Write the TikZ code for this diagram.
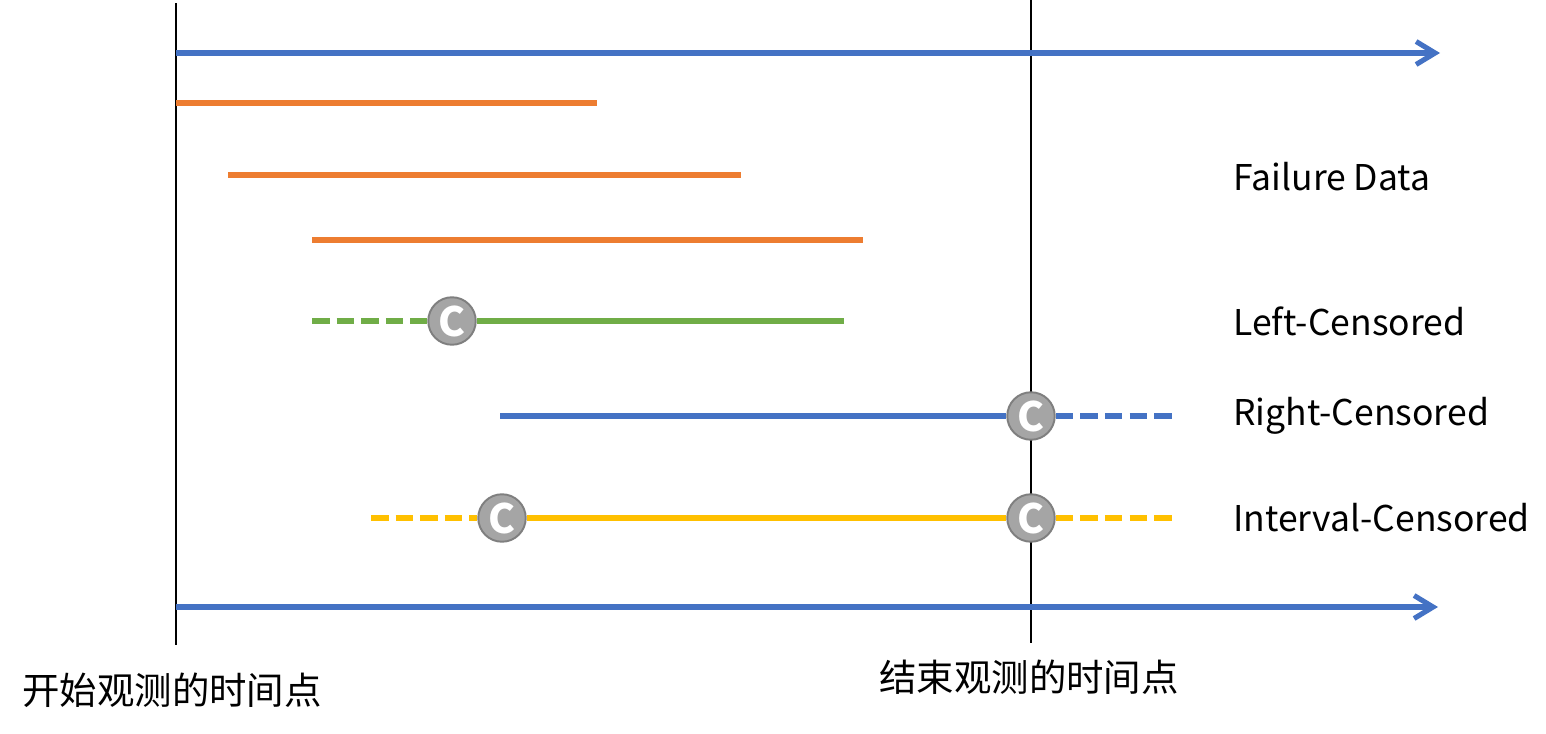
\documentclass[tikz,border=0pt]{standalone}
\usepackage{fontspec}
\setmainfont{Noto Sans CJK SC}
\usepackage{xcolor}
\usetikzlibrary{arrows.meta,positioning}
\definecolor{obsblue}{HTML}{4472C4}
\definecolor{obsorange}{HTML}{ED7D31}
\definecolor{obsgreen}{HTML}{70AD47}
\definecolor{obsyellow}{HTML}{FFC000}
\definecolor{censfill}{HTML}{A5A5A5}
\definecolor{censline}{HTML}{7F7F7F}

\begin{document}
\begin{tikzpicture}[x=0.02cm, y=-0.02cm,
      seg/.style={line width=2.9pt},
      dseg/.style={line width=2.9pt, dash pattern=on 10pt off 4pt},
      axis/.style={line width=2.9pt, color=obsblue,
                   -{Straight Barb[length=0.38cm, width=0.46cm]}},
      bound/.style={black, line width=0.8pt},
      cens/.style={circle, draw=censline, fill=censfill, line width=1.1pt,
                   minimum size=0.95cm, inner sep=0pt, text=white,
                   font=\fontsize{23}{23}\selectfont\bfseries},
      lbl/.style={anchor=west, inner sep=0pt, font=\fontsize{20.2}{24}\selectfont},
      tlbl/.style={inner sep=0pt, font=\fontsize{21.3}{24}\selectfont}
  ]
    \useasboundingbox (0,0) rectangle (1546,734);
    % observation window
    \coordinate (s0) at (176,3);   \coordinate (s1) at (176,645);
    \coordinate (e0) at (1031,0);  \coordinate (e1) at (1031,643);
    \draw[bound] (s0)--(s1); \draw[bound] (e0)--(e1);
    \node[tlbl] (start) at (172,690) {开始观测的时间点};
    \node[tlbl] (stop)  at (1029,677) {结束观测的时间点};
    % time axes
    \coordinate (a0) at (176,53);  \coordinate (a1) at (1440,53);
    \coordinate (b0) at (176,607); \coordinate (b1) at (1438,607);
    \draw[axis] (a0)--(a1); \draw[axis] (b0)--(b1);
    % failure data
    \coordinate (f1a) at (176,103); \coordinate (f1b) at (597,103);
    \coordinate (f2a) at (228,175); \coordinate (f2b) at (741,175);
    \coordinate (f3a) at (312,240); \coordinate (f3b) at (863,240);
    \draw[seg, obsorange] (f1a)--(f1b);
    \draw[seg, obsorange] (f2a)--(f2b);
    \draw[seg, obsorange] (f3a)--(f3b);
    % left-censored
    \coordinate (g0) at (312,321); \coordinate (g1) at (844,321);
    \node[cens] (cg) at (452,321) {C};
    \draw[dseg, obsgreen] (g0)--(cg.west);
    \draw[seg, obsgreen] (cg.east)--(g1);
    % right-censored
    \coordinate (r0) at (500,416); \coordinate (r1) at (1175,416);
    \node[cens] (cr) at (1031,416) {C};
    \draw[seg, obsblue] (r0)--(cr.west);
    \draw[dseg, obsblue] (cr.east)--(r1);
    % interval-censored
    \coordinate (i0) at (371,518); \coordinate (i1) at (1175,518);
    \node[cens] (ci1) at (502,518) {C};
    \node[cens] (ci2) at (1031,518) {C};
    \draw[dseg, obsyellow] (i0)--(ci1.west);
    \draw[seg, obsyellow] (ci1.east)--(ci2.west);
    \draw[dseg, obsyellow] (ci2.east)--(i1);
    % labels
    \node[lbl] (lf) at (1233,177) {Failure Data};
    \node[lbl] (ll) at (1233,321) {Left-Censored};
    \node[lbl] (lr) at (1233,416) {Right-Censored};
    \node[lbl] (li) at (1233,518) {Interval-Censored};
  \end{tikzpicture}
\end{document}
